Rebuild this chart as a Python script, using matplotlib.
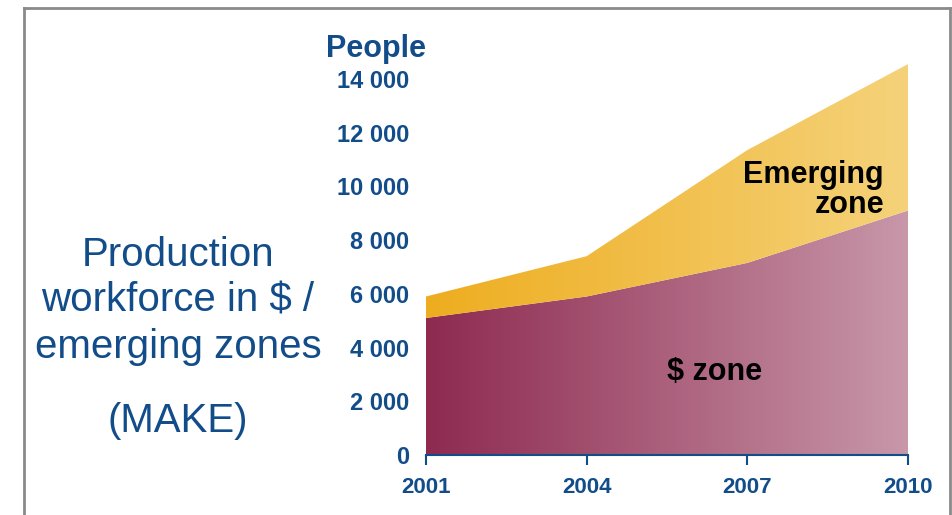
import matplotlib.pyplot as plt
import numpy as np
from matplotlib.colors import LinearSegmentedColormap
from matplotlib.lines import Line2D

plt.rcParams['font.family'] = ['Liberation Sans', 'DejaVu Sans']

years = [2001, 2004, 2007, 2010]
dollar_zone = [5100, 5900, 7150, 9100]
emerging_zone = [800, 1500, 4200, 5450]
y_ticks = [0, 2000, 4000, 6000, 8000, 10000, 12000, 14000]
y_tick_labels = ['0', '2 000', '4 000', '6 000', '8 000', '10 000', '12 000', '14 000']

blue = '#124D8A'
W, H = 953, 515

fig = plt.figure(figsize=(W / 100, H / 100), dpi=100)
ax = fig.add_axes([426 / W, 1 - 455 / H, (908 - 426) / W, (455 - 52) / H])

total = np.array(dollar_zone) + np.array(emerging_zone)


def gradient_fill(x, lo, hi, c_left, c_right):
    # horizontal colour gradient clipped to the band between lo and hi
    poly = ax.fill_between(x, lo, hi, facecolor='none', edgecolor='none')
    cmap = LinearSegmentedColormap.from_list('g', [c_left, c_right])
    grad = np.linspace(0, 1, 256).reshape(1, -1)
    im = ax.imshow(grad, cmap=cmap, aspect='auto', origin='lower',
                   extent=[x[0], x[-1], 0, 15000], zorder=1)
    im.set_clip_path(poly.get_paths()[0], transform=ax.transData)


gradient_fill(years, np.zeros(4), dollar_zone, '#8E2A50', '#C897A9')
gradient_fill(years, dollar_zone, total, '#EEAD1F', '#F5D27A')

ax.set_xlim(2001, 2010)
ax.set_ylim(0, 15000)
ax.set_xticks(years)
ax.set_xticklabels([str(y) for y in years])
ax.set_yticks(y_ticks)
ax.set_yticklabels(y_tick_labels)

for s in ['top', 'right', 'left']:
    ax.spines[s].set_visible(False)
ax.spines['bottom'].set_color(blue)
ax.spines['bottom'].set_linewidth(1.5)
ax.spines['bottom'].set_zorder(3)
ax.tick_params(axis='x', direction='out', length=7, width=1.5, color=blue,
               labelcolor=blue, labelsize=16, pad=9)
ax.tick_params(axis='y', length=0, labelcolor=blue, labelsize=17, pad=12)
for lbl in ax.get_xticklabels() + ax.get_yticklabels():
    lbl.set_fontweight('bold')

fig.text(376 / W, 1 - 49 / H, 'People', color=blue, fontsize=22,
         fontweight='bold', ha='center', va='center')

ax.text(2009.55, 9865, 'Emerging\nzone', color='black', fontsize=22,
        fontweight='bold', ha='right', va='center', linespacing=1.0)
ax.text(2006.38, 3090, '$ zone', color='black', fontsize=22,
        fontweight='bold', ha='center', va='center')

fig.text(178 / W, 1 - 301 / H, 'Production\nworkforce in $ /\nemerging zones',
         color=blue, fontsize=29, ha='center', va='center', linespacing=1.28)
fig.text(178 / W, 1 - 421 / H, '(MAKE)', color=blue, fontsize=29,
         ha='center', va='center')

# thin grey frame around the slide area
frame = dict(color='#8A8A8A', linewidth=2, transform=fig.transFigure)
fig.add_artist(Line2D([24 / W, 24 / W], [0, 1 - 8 / H], **frame))
fig.add_artist(Line2D([24 / W, 950 / W], [1 - 8 / H, 1 - 8 / H], **frame))
fig.add_artist(Line2D([950 / W, 950 / W], [0, 1 - 8 / H], **frame))

fig.savefig('out.png', dpi=100)
